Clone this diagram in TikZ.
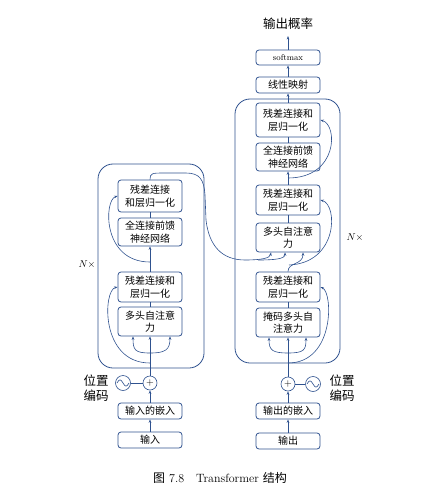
\documentclass[tikz,border=0pt]{standalone}
\usepackage{fontspec}
\newfontfamily\cjk{Noto Sans CJK SC}
\usetikzlibrary{arrows.meta}
\definecolor{bl}{RGB}{47,82,143}
\begin{document}
\begin{tikzpicture}[x=1pt,y=-1pt,
  blk/.style={draw=bl, line width=0.8pt, rounded corners=3pt, minimum width=64pt,
    align=center, font=\cjk\fontsize{10}{12.5}\selectfont, inner sep=1pt},
  con/.style={draw=bl, line width=0.6pt},
  arr/.style={con, -{Stealth[length=3.5pt,width=2.6pt]}},
  outerbox/.style={draw=bl, line width=0.8pt, rounded corners=15pt, inner sep=0pt},
  circ/.style={circle, draw=bl, line width=0.6pt, inner sep=0pt},
  lbl/.style={font=\cjk\fontsize{12.5}{15.5}\selectfont, align=center},
]
\useasboundingbox (0,0) rectangle (437,497);

% outer boxes
\node[outerbox, minimum width=106pt, minimum height=204pt] (enc) at (151,266) {};
\node[outerbox, minimum width=105pt, minimum height=264pt] (dec) at (287.5,231) {};
\node (nl) at (87,264) {\fontsize{10}{11}\selectfont$N\times$};
\node (nr) at (355,237) {\fontsize{10}{11}\selectfont$N\times$};

% encoder blocks
\node[blk, minimum height=29pt] (eA) at (150,321.5) {多头自注意\\力};
\node[blk, minimum height=30pt] (eB) at (150,287) {残差连接和\\层归一化};
\node[blk, minimum height=28pt] (eC) at (150,232) {全连接前馈\\神经网络};
\node[blk, minimum height=32pt] (eD) at (150,196) {残差连接\\和层归一化};

% decoder blocks
\node[blk, minimum height=29pt] (dA) at (288,322.5) {掩码多头自\\注意力};
\node[blk, minimum height=30pt] (dB) at (288,287) {残差连接和\\层归一化};
\node[blk, minimum height=29pt] (dC) at (288,237.5) {多头自注意\\力};
\node[blk, minimum height=30pt] (dD) at (288,200) {残差连接和\\层归一化};
\node[blk, minimum height=28pt] (dE) at (288,157) {全连接前馈\\神经网络};
\node[blk, minimum height=34pt] (dF) at (288,120) {残差连接和\\层归一化};
\node[blk, minimum height=16pt] (lin) at (288,85) {线性映射};
\node[blk, minimum height=15pt, font=\rmfamily\fontsize{8.5}{10}\selectfont] (soft) at (288,57.5) {softmax};
\node[lbl] (prob) at (288,24) {输出概率};
\coordinate (probin) at (288,36);

% encoder input
\node[circ, minimum size=14pt] (ep) at (150,383) {\fontsize{10}{10}\selectfont$+$};
\node[circ, minimum size=15pt] (es) at (123,383) {};
\draw[bl, line width=0.6pt, shift={(es.center)}] plot[domain=-6:6, samples=40, smooth] (\x, {3*sin(\x*30)});
\node[lbl] (epos) at (96,388) {位置\\编码};
\node[blk, minimum height=16pt] (ei) at (150,411) {输入的嵌入};
\node[blk, minimum height=16pt] (inp) at (150,440) {输入};

% decoder input
\node[circ, minimum size=14pt] (dp) at (288,384) {\fontsize{10}{10}\selectfont$+$};
\node[circ, minimum size=15pt] (ds) at (313,384) {};
\draw[bl, line width=0.6pt, shift={(ds.center)}] plot[domain=-6:6, samples=40, smooth] (\x, {3*sin(\x*30)});
\node[lbl] (dpos) at (342,388) {位置\\编码};
\node[blk, minimum height=16pt] (dout) at (288,411) {输出的嵌入};
\node[blk, minimum height=16pt] (outp) at (288,441) {输出};

% caption
\node (cap) at (220,478) {\fontsize{12}{14}\selectfont{\cjk 图}\ 7.8\quad Transformer {\cjk 结构}};

% ---------- encoder connectors
\draw[arr] (inp) -- (ei);
\draw[arr] (ei) -- (ep);
\draw[con] (es) -- (ep);
\draw[arr] (ep) -- (eA);
\coordinate (eb1) at (150,353);
\draw[arr] (eb1) .. controls (135,353) and (133,350) .. ([xshift=-17pt]eA.south);
\draw[arr] (eb1) .. controls (165,353) and (170,350) .. ([xshift=20pt]eA.south);
\coordinate (er1) at (150,363);
\draw[arr] (er1) .. controls (100,363) and (103,290) .. (eB.west);
\draw[con] (eA) -- (eB);
\draw[arr] (eB) -- (eC);
\coordinate (er2) at (150,262);
\draw[arr] (er2) .. controls (102,262) and (104,200) .. (eD.west);
\draw[con] (eC) -- (eD);
% encoder output to decoder
\coordinate (ej) at (258,260);
\draw[arr] (eD.north) .. controls (150,173) and (152,173) .. (165,173) -- (186,173)
  .. controls (200,173) and (204,180) .. (205,195) -- (206,220)
  .. controls (209,246) and (222,260) .. (245,260)
  .. controls (262,260) and (270,258) .. ([xshift=-17pt]dC.south);
\draw[arr] (ej) .. controls (274,260) and (285,259) .. ([xshift=-3pt]dC.south);

% ---------- decoder connectors
\draw[arr] (outp) -- (dout);
\draw[arr] (dout) -- (dp);
\draw[con] (ds) -- (dp);
\draw[arr] (dp) -- (dA);
\coordinate (db1) at (288,353);
\draw[arr] (db1) .. controls (272,353) and (269,350) .. ([xshift=-19pt]dA.south);
\draw[arr] (db1) .. controls (304,353) and (306,350) .. ([xshift=18pt]dA.south);
\coordinate (dr1) at (288,363);
\draw[arr] (dr1) .. controls (335,363) and (333,292) .. (dB.east);
\draw[con] (dA) -- (dB);
\coordinate (dr2) at (289,265);
\draw[arr] (dB.north) .. controls (288,262) and (303,265) .. ([xshift=15pt]dC.south);
\draw[arr] (dr2) .. controls (338,263) and (338,205) .. (dD.east);
\draw[con] (dC) -- (dD);
\draw[arr] (dD) -- (dE);
\coordinate (dr3) at (288,178);
\draw[arr] (dr3) .. controls (338,178) and (338,125) .. (dF.east);
\draw[con] (dE) -- (dF);
\draw[arr] (dF) -- (lin);
\draw[arr] (lin) -- (soft);
\draw[arr] (soft) -- (probin);
\end{tikzpicture}
\end{document}
